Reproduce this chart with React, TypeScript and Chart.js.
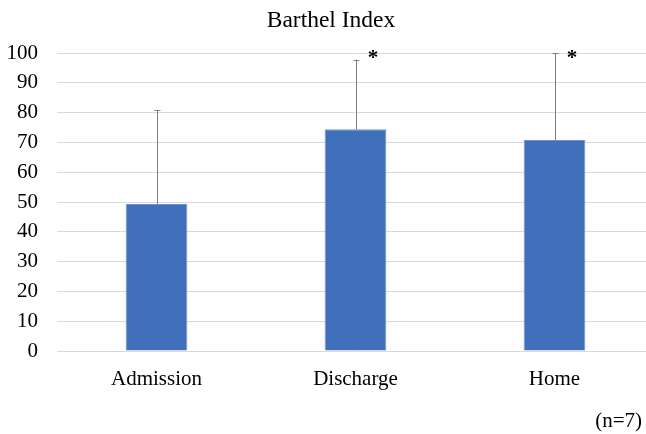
import React, { useEffect, useRef } from "react";
import { Chart, registerables } from "chart.js";

Chart.register(...registerables);

const categories = ["Admission", "Discharge", "Home"];
const means = [49.3, 74.4, 70.8];
const sdUpper = [31.6, 23.4, 29.2];
const significant = [false, true, true];
const yMin = 0;
const yMax = 100;
const yStep = 10;
const titleText = "Barthel Index";
const noteText = "(n=7)";

const FONT = "'Liberation Serif', 'Times New Roman', serif";

const overlayPlugin = {
  id: "overlay",
  afterDatasetsDraw(chart: any) {
    const ctx = chart.ctx;
    const meta = chart.getDatasetMeta(0);
    const ys = chart.scales.y;
    ctx.save();
    meta.data.forEach((el: any, i: number) => {
      const x = el.x;
      const top = ys.getPixelForValue(means[i] + sdUpper[i]);
      ctx.strokeStyle = "#7f7f7f";
      ctx.lineWidth = 1;
      ctx.beginPath();
      ctx.moveTo(Math.round(x) + 0.5, el.y);
      ctx.lineTo(Math.round(x) + 0.5, top);
      ctx.moveTo(Math.round(x) - 2.5, Math.round(top) + 0.5);
      ctx.lineTo(Math.round(x) + 3.5, Math.round(top) + 0.5);
      ctx.stroke();
      if (significant[i]) {
        ctx.fillStyle = "#000";
        ctx.font = `bold 21px ${FONT}`;
        ctx.textAlign = "center";
        ctx.textBaseline = "middle";
        ctx.fillText("*", x + 17.5, ys.getPixelForValue(yMax) + 6);
      }
    });
    ctx.restore();
  },
  afterDraw(chart: any) {
    const ctx = chart.ctx;
    ctx.save();
    ctx.fillStyle = "#000";
    ctx.font = `23.5px ${FONT}`;
    ctx.textAlign = "center";
    ctx.textBaseline = "alphabetic";
    ctx.fillText(titleText, 331, 27);
    ctx.font = `21px ${FONT}`;
    ctx.textAlign = "right";
    ctx.fillText(noteText, 642, 427);
    ctx.restore();
  },
};

export default function App() {
  const ref = useRef<HTMLCanvasElement | null>(null);
  useEffect(() => {
    if (!ref.current) return;
    const chart = new Chart(ref.current, {
      type: "bar",
      data: {
        labels: categories,
        datasets: [
          {
            data: means,
            backgroundColor: "#3f70b9",
            borderColor: "#6b93d3",
            borderWidth: 1,
            barPercentage: 0.62,
            categoryPercentage: 0.5,
          },
        ],
      },
      options: {
        responsive: false,
        animation: false,
        layout: { padding: { top: 53, left: 0, right: 0, bottom: 0 } },
        plugins: {
          legend: { display: false },
          title: { display: false },
          tooltip: { enabled: false },
        },
        scales: {
          x: {
            grid: { display: false },
            border: { display: false },
            ticks: {
              color: "#000",
              font: { family: FONT, size: 21 },
              padding: 8,
            },
            afterFit(scale: any) {
              scale.height = 83;
            },
          },
          y: {
            min: yMin,
            max: yMax,
            ticks: {
              stepSize: yStep,
              color: "#000",
              font: { family: FONT, size: 21 },
              padding: 19,
            },
            grid: { color: "#d9d9d9", lineWidth: 1, drawTicks: false },
            border: { display: false },
            afterFit(scale: any) {
              scale.width = 57;
            },
          },
        },
      },
      plugins: [overlayPlugin],
    });
    return () => chart.destroy();
  }, []);
  return (
    <div style={{ position: "fixed", left: 0, top: 0, width: 646, height: 434, overflow: "hidden", background: "#fff" }}>
      <canvas ref={ref} width={654} height={434} style={{ display: "block" }} />
    </div>
  );
}
